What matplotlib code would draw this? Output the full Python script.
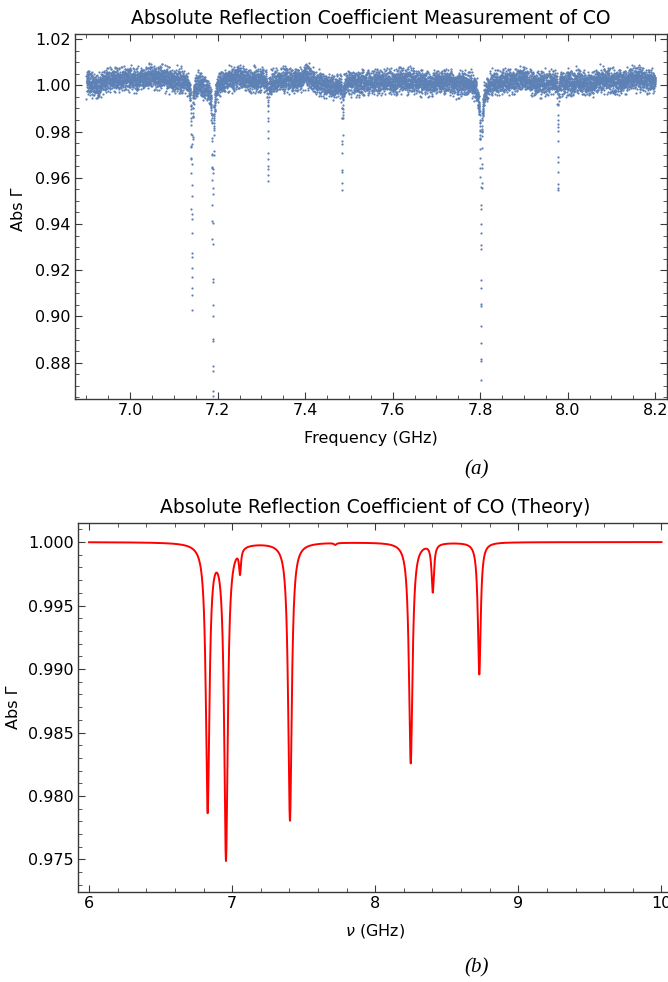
import numpy as np
import matplotlib
matplotlib.use('Agg')
import matplotlib.pyplot as plt
from matplotlib.ticker import MultipleLocator, FormatStrFormatter

blue = '#5e81b5'

# (a) measurement: level of the noisy band read every 0.025 GHz
band_freq = [6.900, 6.925, 6.950, 6.975, 7.000, 7.025, 7.050, 7.075, 7.100, 7.125,
             7.150, 7.175, 7.200, 7.225, 7.250, 7.275, 7.300, 7.325, 7.350, 7.375,
             7.400, 7.425, 7.450, 7.475, 7.500, 7.525, 7.550, 7.575, 7.600, 7.625,
             7.650, 7.675, 7.700, 7.725, 7.750, 7.775, 7.800, 7.825, 7.850, 7.875,
             7.900, 7.925, 7.950, 7.975, 8.000, 8.025, 8.050, 8.075, 8.100, 8.125,
             8.150, 8.175, 8.200]
band_level = [1.0015, 0.9995, 1.0030, 1.0025, 1.0030, 1.0025, 1.0040, 1.0030, 1.0020, 1.0025,
              1.0010, 1.0005, 1.0020, 1.0030, 1.0040, 1.0020, 1.0025, 1.0015, 1.0025, 1.0020,
              1.0040, 1.0010, 1.0000, 0.9995, 1.0015, 1.0010, 1.0015, 1.0020, 1.0015, 1.0025,
              1.0020, 1.0010, 1.0015, 1.0020, 1.0010, 1.0015, 1.0010, 1.0020, 1.0015, 1.0025,
              1.0030, 1.0010, 1.0010, 1.0015, 1.0010, 1.0015, 1.0005, 1.0025, 1.0020, 1.0015,
              1.0035, 1.0025, 1.0020]
band_spread = 0.0048

# absorption lines seen in (a): centre (GHz), depth, half width
meas_centre = [7.141, 7.189, 7.315, 7.485, 7.802, 7.978]
meas_depth = [0.093, 0.129, 0.044, 0.043, 0.116, 0.048]
meas_width = [0.0008, 0.0008, 0.0005, 0.0005, 0.0008, 0.0005]
# broad shoulders around the strongest lines
shoulder_centre = [7.141, 7.189, 7.802]
shoulder_depth = [0.003, 0.006, 0.009]
shoulder_width = [0.004, 0.007, 0.008]

# (b) theory: lines centre (GHz), depth, half width
theory_centre = [6.829, 6.957, 7.055, 7.404, 7.720, 8.248, 8.402, 8.727]
theory_depth = [0.0210, 0.0248, 0.0019, 0.0219, 0.00015, 0.0174, 0.0038, 0.0104]
theory_width = [0.015, 0.015, 0.008, 0.015, 0.010, 0.015, 0.010, 0.012]


def lines(f, centre, depth, width):
    out = np.zeros_like(f)
    for c, d, w in zip(centre, depth, width):
        out += d * w**2 / (w**2 + (f - c)**2)
    return out


# measured points: band level with a fixed quasi-uniform spread inside the band
n = 9000
freq = np.linspace(6.9, 8.2, n)
k = np.arange(n, dtype=float)
spread = (np.mod(k * k * 0.6180339887, 1) + np.mod(k * 0.4142135624 + k * k * 0.2360679775, 1)
          + np.mod(k * k * 0.7320508076, 1) - 1.5)
absg = (np.interp(freq, band_freq, band_level) + band_spread * spread
        - lines(freq, meas_centre, meas_depth, meas_width)
        - lines(freq, shoulder_centre, shoulder_depth, shoulder_width))

nu = np.linspace(6, 10, 4001)
theory = 1 - lines(nu, theory_centre, theory_depth, theory_width)

fig = plt.figure(figsize=(6.68, 9.82), dpi=100)
frame = '#3a3a3a'


def style(ax, right=True):
    for s in ax.spines.values():
        s.set_color(frame)
        s.set_linewidth(1.0)
    ax.tick_params(which='both', direction='in', top=True, right=right,
                   color=frame, labelsize=11.5, pad=3)
    ax.tick_params(which='major', length=5, width=0.8)
    ax.tick_params(which='minor', length=3, width=0.6)


ax1 = fig.add_axes([75 / 668, 1 - 399 / 982, 592 / 668, 365 / 982])
ax1.scatter(freq, absg, s=2.5, color=blue, linewidths=0)
ax1.set_xlim(6.874, 8.227)
ax1.set_ylim(0.8643, 1.0222)
ax1.xaxis.set_major_locator(MultipleLocator(0.2))
ax1.xaxis.set_minor_locator(MultipleLocator(0.05))
ax1.yaxis.set_major_locator(MultipleLocator(0.02))
ax1.yaxis.set_minor_locator(MultipleLocator(0.005))
ax1.xaxis.set_major_formatter(FormatStrFormatter('%.1f'))
ax1.yaxis.set_major_formatter(FormatStrFormatter('%.2f'))
style(ax1)
ax1.set_title('Absolute Reflection Coefficient Measurement of CO', fontsize=13.5, pad=7)
ax1.set_xlabel('Frequency (GHz)', fontsize=11.5)
ax1.set_ylabel('Abs Γ', fontsize=11.5)
ax1.xaxis.set_label_coords(0.5, -0.088)
ax1.yaxis.set_label_coords(-0.083, 0.52)

ax2 = fig.add_axes([78 / 668, 1 - 892 / 982, 594.5 / 668, 369 / 982])
ax2.plot(nu, theory, color='red', lw=1.4)
ax2.set_xlim(5.923, 10.077)
ax2.set_ylim(0.97244, 1.0015)
ax2.xaxis.set_major_locator(MultipleLocator(1))
ax2.xaxis.set_minor_locator(MultipleLocator(0.2))
ax2.yaxis.set_major_locator(MultipleLocator(0.005))
ax2.yaxis.set_minor_locator(MultipleLocator(0.001))
ax2.xaxis.set_major_formatter(FormatStrFormatter('%d'))
ax2.yaxis.set_major_formatter(FormatStrFormatter('%.3f'))
style(ax2, right=False)
ax2.set_title('Absolute Reflection Coefficient of CO (Theory)', fontsize=13.5, pad=7)
ax2.set_xlabel(r'$\nu$ (GHz)', fontsize=11.5)
ax2.set_ylabel('Abs Γ', fontsize=11.5)
ax2.xaxis.set_label_coords(0.5, -0.081)
ax2.yaxis.set_label_coords(-0.096, 0.5)

fig.text(477 / 668, 1 - 470 / 982, '(a)', family='Liberation Serif', style='italic',
         fontsize=15, ha='center', va='center')
fig.text(477 / 668, 1 - 968 / 982, '(b)', family='Liberation Serif', style='italic',
         fontsize=15, ha='center', va='center')

fig.savefig('out.png', dpi=100)
